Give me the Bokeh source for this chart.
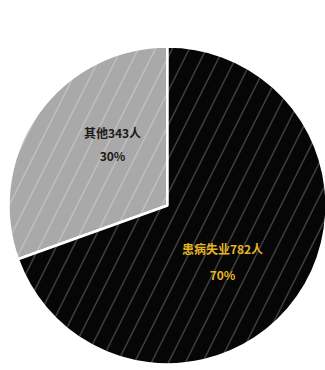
from bokeh.plotting import figure
from bokeh.models import Range1d
from bokeh.embed import file_html
from bokeh.resources import INLINE
from bokeh.core.properties import value
import math

# data
categories = ["其他", "患病失业"]
counts = [343, 782]
pct_labels = ["30%", "70%"]
colors = ["#a9a9a9", "#060606"]
label_colors = ["#1a1a1a", "#e6b422"]

W, H = 325, 370
p = figure(width=W, height=H, x_range=Range1d(0, W), y_range=Range1d(0, H),
           output_backend="svg", toolbar_location=None, min_border=0)
p.axis.visible = False
p.grid.visible = False
p.outline_line_color = None
p.background_fill_color = "white"
p.border_fill_color = "white"

cx, cy, r = 167, H - 205, 159
total = sum(counts)
start = math.pi / 2
starts, ends = [], []
for c in counts:
    a = 2 * math.pi * c / total
    starts.append(start)
    ends.append(start + a)
    start += a

hatch_alpha = [0.25, 0.22]
for i in range(len(counts)):
    p.wedge(x=cx, y=cy, radius=r, start_angle=starts[i], end_angle=ends[i],
            fill_color=colors[i], line_color="white", line_width=2.5,
            hatch_pattern="/", hatch_color="white", hatch_alpha=hatch_alpha[i],
            hatch_scale=34, hatch_weight=1.5)

# labels
label_pos = [(112, 132, 155), (222, 248, 274)]
for i in range(len(counts)):
    lx, ly1, ly2 = label_pos[i]
    p.text(x=[lx], y=[H - ly1], text=[f"{categories[i]}{counts[i]}人"],
           text_color=label_colors[i], text_font=value("Noto Sans CJK SC"),
           text_font_size="12px", text_font_style="bold",
           text_align="center", text_baseline="middle")
    p.text(x=[lx], y=[H - ly2], text=[pct_labels[i]],
           text_color=label_colors[i], text_font=value("Noto Sans CJK SC"),
           text_font_size="12px", text_font_style="bold",
           text_align="center", text_baseline="middle")

open("out.html", "w").write(file_html(p, INLINE))
